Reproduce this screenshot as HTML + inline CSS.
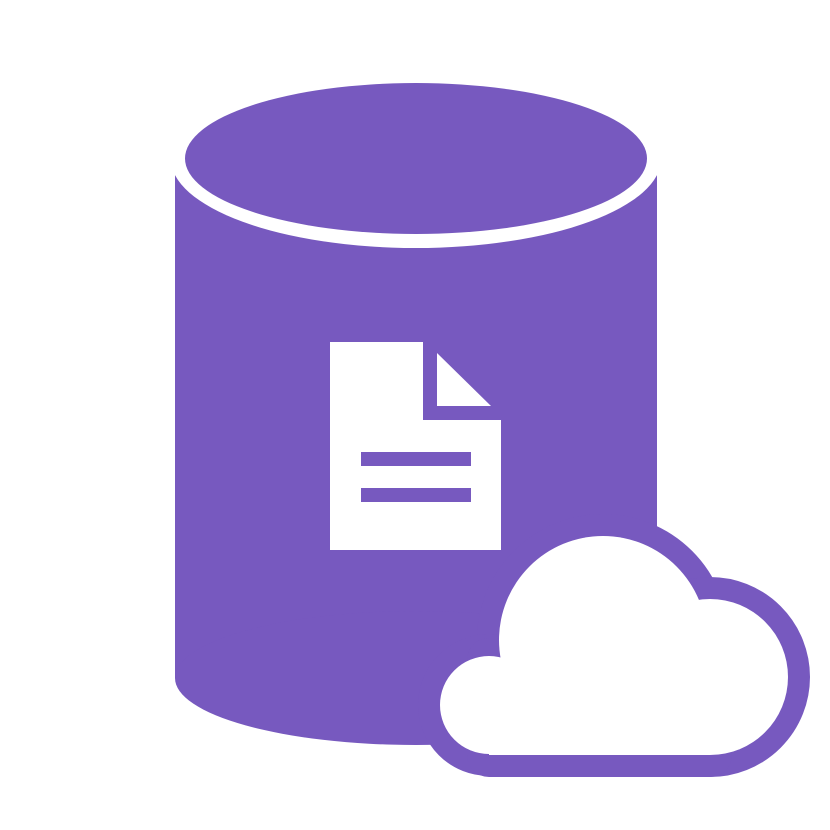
<!DOCTYPE html>
<html><head><meta charset="utf-8"><style>html,body{margin:0;padding:0;background:#fff;}svg{display:block}</style></head>
<body>
<svg width="830" height="830" viewBox="0 0 830 830" xmlns="http://www.w3.org/2000/svg">
<rect x="0" y="0" width="830" height="830" fill="#fff"/>
<g fill="#7759BF">
<rect x="175" y="158" width="482" height="520"/>
<ellipse cx="416" cy="678" rx="241" ry="67"/>
</g>
<ellipse cx="416" cy="158" rx="245.5" ry="90" fill="#fff"/>
<ellipse cx="416" cy="158.5" rx="231" ry="75.5" fill="#7759BF"/>
<polygon points="330,342 423,342 423,420 501,420 501,550 330,550" fill="#fff"/>
<polygon points="437,353 491,406 437,406" fill="#fff"/>
<rect x="361" y="452" width="110" height="14" fill="#7759BF"/>
<rect x="361" y="488" width="110" height="14" fill="#7759BF"/>
<g fill="#7759BF" stroke="#7759BF" stroke-width="44" stroke-linejoin="round">
<circle cx="603" cy="640" r="104"/>
<circle cx="710" cy="677" r="78"/>
<circle cx="489" cy="705" r="49"/>
<rect x="489" y="660" width="221" height="95"/>
</g>
<g fill="#fff">
<circle cx="603" cy="640" r="104"/>
<circle cx="710" cy="677" r="78"/>
<circle cx="489" cy="705" r="49"/>
<rect x="489" y="660" width="221" height="95"/>
</g>
</svg>
</body></html>
